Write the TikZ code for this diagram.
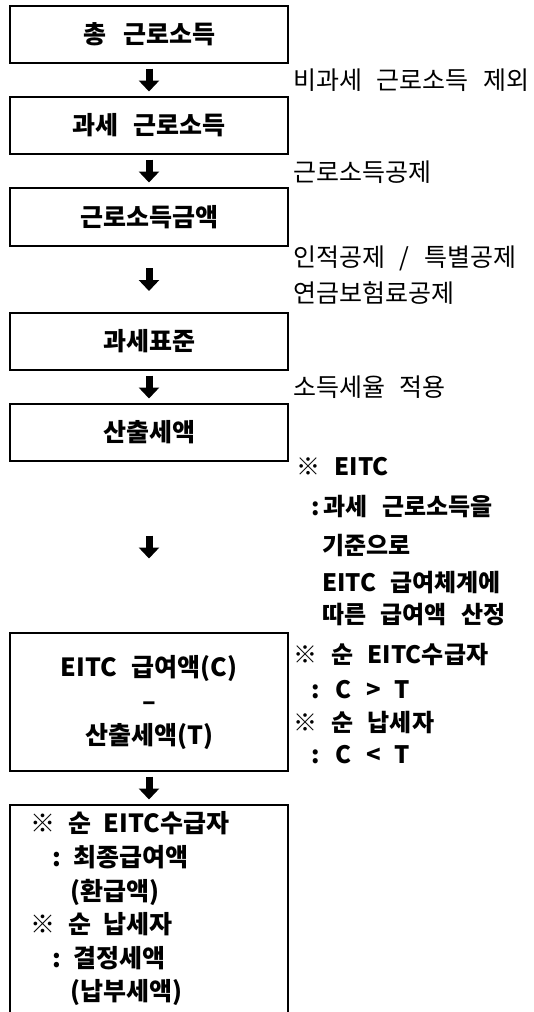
\documentclass[tikz,border=0pt]{standalone}
\usepackage{fontspec}
\newfontfamily\kr{Noto Sans CJK KR}[WordSpace=2.6]
\usetikzlibrary{arrows.meta}
\begin{document}
\begin{tikzpicture}[x=1pt,y=-1pt,
  box/.style={draw, line width=2.4pt, minimum width=278pt, inner sep=0pt,
    font=\kr\bfseries\fontsize{25}{34}\selectfont, align=center},
  flow/.style={line width=7pt, -{Triangle[width=20pt,length=11pt]}},
  plain/.style={anchor=west, inner sep=0pt, font=\kr\fontsize{25}{28}\selectfont},
  bnote/.style={anchor=west, inner sep=0pt, font=\kr\bfseries\fontsize{24}{28}\selectfont}]
\useasboundingbox (0,0) rectangle (534,1012);
% boxes
\node[box, minimum height=57pt] (b1) at (149,34.5) {총\hspace{17pt}근로소득};
\node[box, minimum height=57pt] (b2) at (149,125.5) {과세 근로소득};
\node[box, minimum height=58pt] (b3) at (149,217) {근로소득금액};
\node[box, minimum height=57pt] (b4) at (149,341.5) {과세표준};
\node[box, minimum height=57pt] (b5) at (149,432.5) {산출세액};
\node[box, minimum height=138pt] (b6) at (149,702) {EITC 급여액(C)\\–\\산출세액(T)};
\node[box, minimum height=208pt, align=left, text width=238pt, inner xsep=20pt,
  font=\kr\bfseries\fontsize{25}{33.6}\selectfont] (b7) at (149,909)
  {※\hspace{13pt}순\hspace{13pt}EITC수급자\\
   \hspace*{23pt}:\hspace{12pt}최종급여액\\
   \hspace*{40pt}(환급액)\\
   ※\hspace{13pt}순\hspace{13pt}납세자\\
   \hspace*{23pt}:\hspace{12pt}결정세액\\
   \hspace*{40pt}(납부세액)};
% arrows
\path (b1.south) -- (b2.north) coordinate[midway] (m12);
\path (b2.south) -- (b3.north) coordinate[midway] (m23);
\path (b3.south) -- (b4.north) coordinate[midway] (m34);
\path (b4.south) -- (b5.north) coordinate[midway] (m45);
\path (b5.south) -- (b6.north) coordinate[midway] (m56);
\path (b6.south) -- (b7.north) coordinate[midway] (m67);
\foreach \m in {m12,m23,m34,m45,m56,m67}
  \draw[flow] ([yshift=11.5pt]\m) -- ([yshift=-11.5pt]\m);
% right plain notes
\node[plain] (r1) at (293,80) {비과세 근로소득 제외};
\node[plain] (r2) at (293,172) {근로소득공제};
\node[plain] (r3) at (293,258) {인적공제 / 특별공제};
\node[plain] (r4) at (293,293) {연금보험료공제};
\node[plain] (r5) at (293,387) {소득세율 적용};
% right bold notes
\node[bnote] (n1) at (296,467) {※ EITC};
\node[bnote] (n2) at (311,507) {:\hspace{4pt}과세 근로소득을};
\node[bnote] (n3) at (322,545) {기준으로};
\node[bnote] (n4) at (322,583) {EITC 급여체계에};
\node[bnote] (n5) at (322,615) {따른 급여액 산정};
\node[bnote] (n6) at (293,655) {※ 순 EITC수급자};
\node[bnote] (n7) at (311,690) {: C > T};
\node[bnote] (n8) at (293,723) {※ 순 납세자};
\node[bnote] (n9) at (311,755) {: C < T};
\end{tikzpicture}
\end{document}
